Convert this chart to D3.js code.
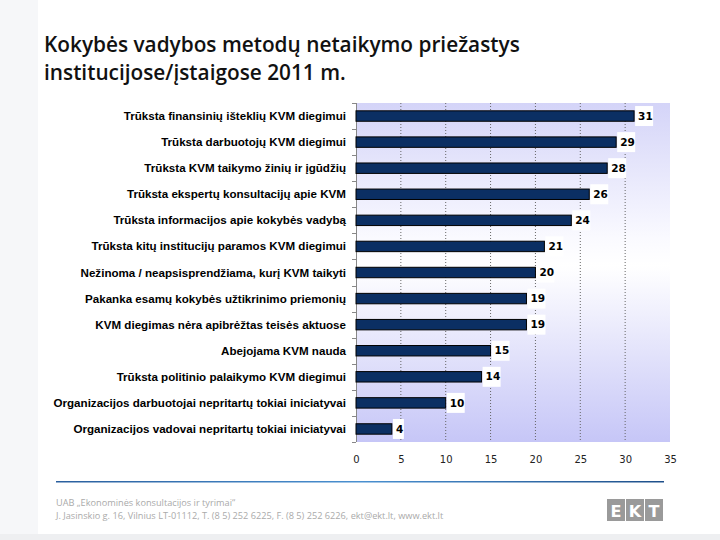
<!DOCTYPE html>
<html>
<head>
<meta charset="utf-8">
<script src="https://cdn.jsdelivr.net/npm/d3@7"></script>
<style>
  body { margin: 0; background: #fff; }
  svg { display: block; }
</style>
</head>
<body>
<svg width="720" height="540"></svg>
<script>
var titleLines = ["Kokybės vadybos metodų netaikymo priežastys", "institucijose/įstaigose 2011 m."];
var categories = [
    "Trūksta finansinių išteklių KVM diegimui",
    "Trūksta darbuotojų KVM diegimui",
    "Trūksta KVM taikymo žinių ir įgūdžių",
    "Trūksta ekspertų konsultacijų apie KVM",
    "Trūksta informacijos apie kokybės vadybą",
    "Trūksta kitų institucijų paramos KVM diegimui",
    "Nežinoma / neapsisprendžiama, kurį KVM taikyti",
    "Pakanka esamų kokybės užtikrinimo priemonių",
    "KVM diegimas nėra apibrėžtas teisės aktuose",
    "Abejojama KVM nauda",
    "Trūksta politinio palaikymo KVM diegimui",
    "Organizacijos darbuotojai nepritartų tokiai iniciatyvai",
    "Organizacijos vadovai nepritartų tokiai iniciatyvai"
];
var values = [31, 29, 28, 26, 24, 21, 20, 19, 19, 15, 14, 10, 4];
var xTicks = [0, 5, 10, 15, 20, 25, 30, 35];
var footerLines = [
    "UAB „Ekonominės konsultacijos ir tyrimai“",
    "J. Jasinskio g. 16, Vilnius LT-01112, T. (8 5) 252 6225, F. (8 5) 252 6226, ekt@ekt.lt, www.ekt.lt"
];
var logoLetters = ["E", "K", "T"];

var svg = d3.select("svg");
var defs = svg.append("defs");

// page background with faint watermark
svg.append("rect").attr("width", 720).attr("height", 540).attr("fill", "#ffffff");
var wm = svg.append("g").attr("fill", "#f6f7f9");
wm.append("rect").attr("x", 0).attr("y", 0).attr("width", 38).attr("height", 540);
wm.append("rect").attr("x", 0).attr("y", 534).attr("width", 720).attr("height", 6).attr("fill", "#eeeff1");

var margin = {top: 103, right: 50, bottom: 98, left: 356},
    width = 720 - margin.left - margin.right,
    height = 540 - margin.top - margin.bottom;

var grad = defs.append("linearGradient").attr("id", "plotBg")
    .attr("x1", 0).attr("y1", 0).attr("x2", 0).attr("y2", 1);
grad.append("stop").attr("offset", "0%").attr("stop-color", "#d4d4f8");
grad.append("stop").attr("offset", "40%").attr("stop-color", "#fafaff");
grad.append("stop").attr("offset", "48%").attr("stop-color", "#ffffff");
grad.append("stop").attr("offset", "100%").attr("stop-color", "#c6c6f7");

// title
svg.append("g").selectAll("text")
    .data(titleLines)
    .enter().append("text")
    .attr("x", 44)
    .attr("y", function (d, i) { return 52 + i * 28; })
    .attr("font-family", "'Open Sans', sans-serif")
    .attr("font-weight", 600)
    .attr("font-size", 20.8)
    .attr("fill", "#111")
    .text(function (d) { return d; });

var g = svg.append("g").attr("transform", "translate(" + margin.left + "," + margin.top + ")");

var x = d3.scaleLinear().domain([0, 35]).range([0, width]);
var y = d3.scaleBand().domain(categories).range([0, height]).paddingInner(0.6).paddingOuter(0.3);

g.append("rect").attr("width", width).attr("height", height).attr("fill", "url(#plotBg)");

// dotted grid
g.append("g").selectAll("line")
    .data(xTicks.slice(1, -1))
    .enter().append("line")
    .attr("x1", function (d) { return x(d); })
    .attr("x2", function (d) { return x(d); })
    .attr("y1", 0).attr("y2", height)
    .attr("stroke", "#666")
    .attr("stroke-width", 1)
    .attr("stroke-dasharray", "1,2");

// x axis labels
g.append("g")
    .attr("transform", "translate(0," + height + ")")
    .call(d3.axisBottom(x).tickValues(xTicks).tickSize(0).tickPadding(14))
    .call(function (a) {
        a.select(".domain").remove();
        a.selectAll("text").attr("font-family", "'DejaVu Sans', sans-serif")
            .attr("font-size", 10).attr("fill", "#222");
    });

// y axis line with ticks between categories
var yAxis = g.append("g");
yAxis.append("line").attr("x1", 0.5).attr("x2", 0.5).attr("y1", 0).attr("y2", height)
    .attr("stroke", "#888");
yAxis.selectAll(".yt")
    .data(d3.range(categories.length + 1))
    .enter().append("line")
    .attr("class", "yt")
    .attr("x1", -4).attr("x2", 0)
    .attr("y1", function (i) { return Math.round(i * height / categories.length) + 0.5; })
    .attr("y2", function (i) { return Math.round(i * height / categories.length) + 0.5; })
    .attr("stroke", "#888");

// category labels
g.append("g").selectAll("text")
    .data(categories)
    .enter().append("text")
    .attr("x", -10)
    .attr("y", function (d) { return y(d) + y.bandwidth() / 2; })
    .attr("dy", "0.35em")
    .attr("text-anchor", "end")
    .attr("font-family", "'Liberation Sans', Arial, sans-serif")
    .attr("font-weight", "bold")
    .attr("font-size", 11.6)
    .attr("fill", "#000")
    .text(function (d) { return d; });

// bars
g.selectAll(".bar")
    .data(values)
    .enter().append("rect")
    .attr("class", "bar")
    .attr("x", 0)
    .attr("y", function (d, i) { return y(categories[i]); })
    .attr("width", function (d) { return x(d); })
    .attr("height", y.bandwidth())
    .attr("fill", "#0b2f63")
    .attr("stroke", "#000")
    .attr("stroke-width", 1);

// value labels
var lab = g.selectAll(".lab")
    .data(values)
    .enter().append("g")
    .attr("class", "lab")
    .attr("transform", function (d, i) {
        return "translate(" + (x(d) + 1) + "," + (y(categories[i]) + y.bandwidth() / 2) + ")";
    });
lab.append("rect")
    .attr("x", 0).attr("y", -10)
    .attr("width", function (d) { return d < 10 ? 11 : 18; })
    .attr("height", 20)
    .attr("fill", "#fff");
lab.append("text")
    .attr("x", 3)
    .attr("dy", "0.35em")
    .attr("font-family", "'DejaVu Sans', sans-serif")
    .attr("font-weight", "bold")
    .attr("font-size", 10.5)
    .attr("fill", "#000")
    .text(function (d) { return d; });

// footer line
var fgrad = defs.append("linearGradient").attr("id", "footLine");
fgrad.append("stop").attr("offset", "0%").attr("stop-color", "#2a5f9e");
fgrad.append("stop").attr("offset", "50%").attr("stop-color", "#4a90d0");
fgrad.append("stop").attr("offset", "100%").attr("stop-color", "#1e4f8a");
svg.append("rect").attr("x", 56).attr("y", 481).attr("width", 608).attr("height", 1.5)
    .attr("fill", "url(#footLine)");

svg.append("g").selectAll("text")
    .data(footerLines)
    .enter().append("text")
    .attr("x", 56)
    .attr("y", function (d, i) { return 506 + i * 13; })
    .attr("font-family", "'Open Sans', sans-serif")
    .attr("font-size", 9.2)
    .attr("fill", "#aaa")
    .text(function (d) { return d; });

// logo
var logo = svg.append("g").attr("transform", "translate(607,499)");
logo.selectAll("rect")
    .data(logoLetters)
    .enter().append("rect")
    .attr("x", function (d, i) { return i * 19; })
    .attr("width", 18).attr("height", 22)
    .attr("fill", "#9a9a9a");
logo.selectAll("text")
    .data(logoLetters)
    .enter().append("text")
    .attr("x", function (d, i) { return i * 19 + 9; })
    .attr("y", 18)
    .attr("text-anchor", "middle")
    .attr("font-family", "'DejaVu Sans', sans-serif")
    .attr("font-weight", "bold")
    .attr("font-size", 16)
    .attr("fill", "#fff")
    .text(function (d) { return d; });
</script>
</body>
</html>
